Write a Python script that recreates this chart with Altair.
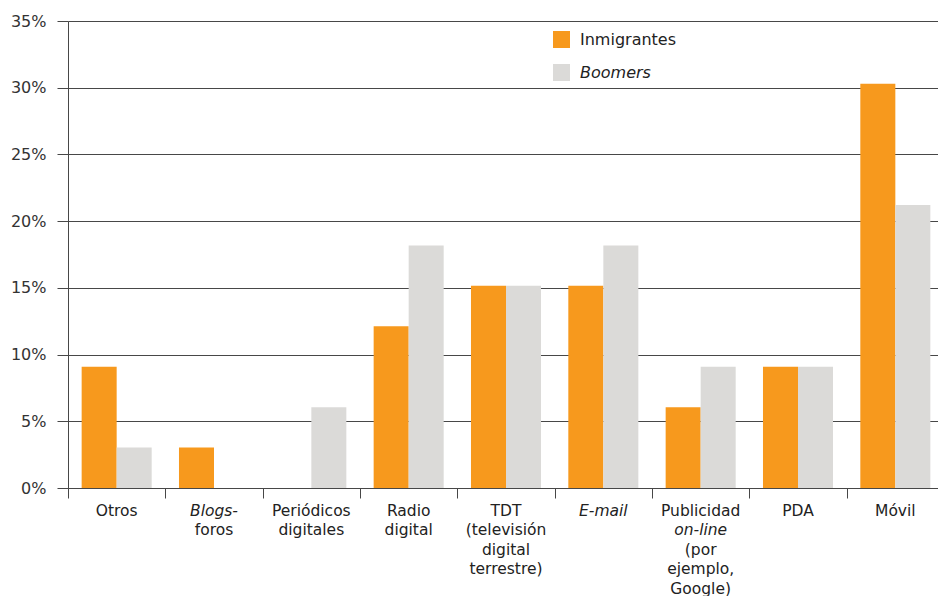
import altair as alt
import pandas as pd

categories = ["Otros", "Blogs-foros", "Periódicos digitales", "Radio digital", "TDT",
              "E-mail", "Publicidad on-line", "PDA", "Móvil"]
series_names = ["Inmigrantes", "Boomers"]
inmigrantes = [9.09, 3.03, 0.0, 12.12, 15.15, 15.15, 6.06, 9.09, 30.30]
boomers = [3.03, 0.0, 6.06, 18.18, 15.15, 18.18, 9.09, 9.09, 21.21]
y_ticks = [0, 5, 10, 15, 20, 25, 30, 35]

# x-axis label lines per category: (text, italic?)
label_lines = [
    [("Otros", False)],
    [("Blogs-", True), ("foros", False)],
    [("Periódicos", False), ("digitales", False)],
    [("Radio", False), ("digital", False)],
    [("TDT", False), ("(televisión", False), ("digital", False), ("terrestre)", False)],
    [("E-mail", True)],
    [("Publicidad", False), ("on-line", True), ("(por", False), ("ejemplo,", False), ("Google)", False)],
    [("PDA", False)],
    [("Móvil", False)],
]

rows = []
for c, a, b in zip(categories, inmigrantes, boomers):
    rows.append({"cat": c, "series": "Inmigrantes", "value": a})
    rows.append({"cat": c, "series": "Boomers", "value": b})
df = pd.DataFrame(rows)

lrows = []
for c, lines in zip(categories, label_lines):
    for i, (t, it) in enumerate(lines):
        lrows.append({"cat": c, "line": i, "text": t, "italic": it, "zero": 0})
lab = pd.DataFrame(lrows)

FONT = "DejaVu Sans"
AX = "#474747"
XSCALE = alt.Scale(paddingInner=0, paddingOuter=0, range=[0, 876])

xenc = alt.X("cat:N", sort=categories, title=None, scale=XSCALE,
             axis=alt.Axis(labels=False, bandPosition=0, tickBand="extent", tickSize=10,
                           domainColor=AX, tickColor=AX, grid=False))

bars = alt.Chart(df).mark_bar().encode(
    x=xenc,
    xOffset=alt.XOffset("series:N", sort=series_names,
                        scale=alt.Scale(paddingInner=0, paddingOuter=0.39)),
    y=alt.Y("value:Q", title=None,
            scale=alt.Scale(domain=[0, 35], nice=False),
            axis=alt.Axis(values=y_ticks, labelExpr="datum.value + '%'", grid=True,
                          gridColor=AX, domainColor=AX, tickColor=AX, tickSize=11,
                          labelPadding=11, labelFontSize=16, labelColor="#333",
                          labelFont=FONT)),
    color=alt.Color("series:N", sort=series_names,
                    scale=alt.Scale(domain=series_names, range=["#F7991D", "#DBDAD8"]),
                    legend=alt.Legend(title=None, orient="none", legendX=485, legendY=10,
                                      symbolType="square", symbolSize=289,
                                      symbolStrokeWidth=0, labelFontSize=16,
                                      labelFont=FONT, labelColor="#222",
                                      rowPadding=16, labelOffset=10,
                                      labelFontStyle={"expr": "datum.label == 'Boomers' ? 'italic' : 'normal'"})),
)

layers = [bars]
max_lines = max(len(l) for l in label_lines)
for i in range(max_lines):
    for it in (False, True):
        sub = lab[(lab["line"] == i) & (lab["italic"] == it)]
        if len(sub) == 0:
            continue
        layers.append(
            alt.Chart(lab).transform_filter(
                (alt.datum.line == i) & (alt.datum.italic == it)
            ).mark_text(baseline="middle", align="center", dy=23 + 19.4 * i, fontSize=15.5,
                        font=FONT, color="#222",
                        fontStyle="italic" if it else "normal").encode(
                x=alt.X("cat:N", sort=categories, scale=XSCALE),
                y=alt.Y("zero:Q"),
                text="text:N",
            )
        )

chart = alt.layer(*layers).properties(
    width=870, height=467,
    padding={"left": 68, "top": 21, "right": 0, "bottom": 108},
    autosize=alt.AutoSizeParams(type="none"),
    background="white",
).configure_view(stroke=None)

chart.save("out.html", embed_options={"renderer": "svg", "actions": False})
